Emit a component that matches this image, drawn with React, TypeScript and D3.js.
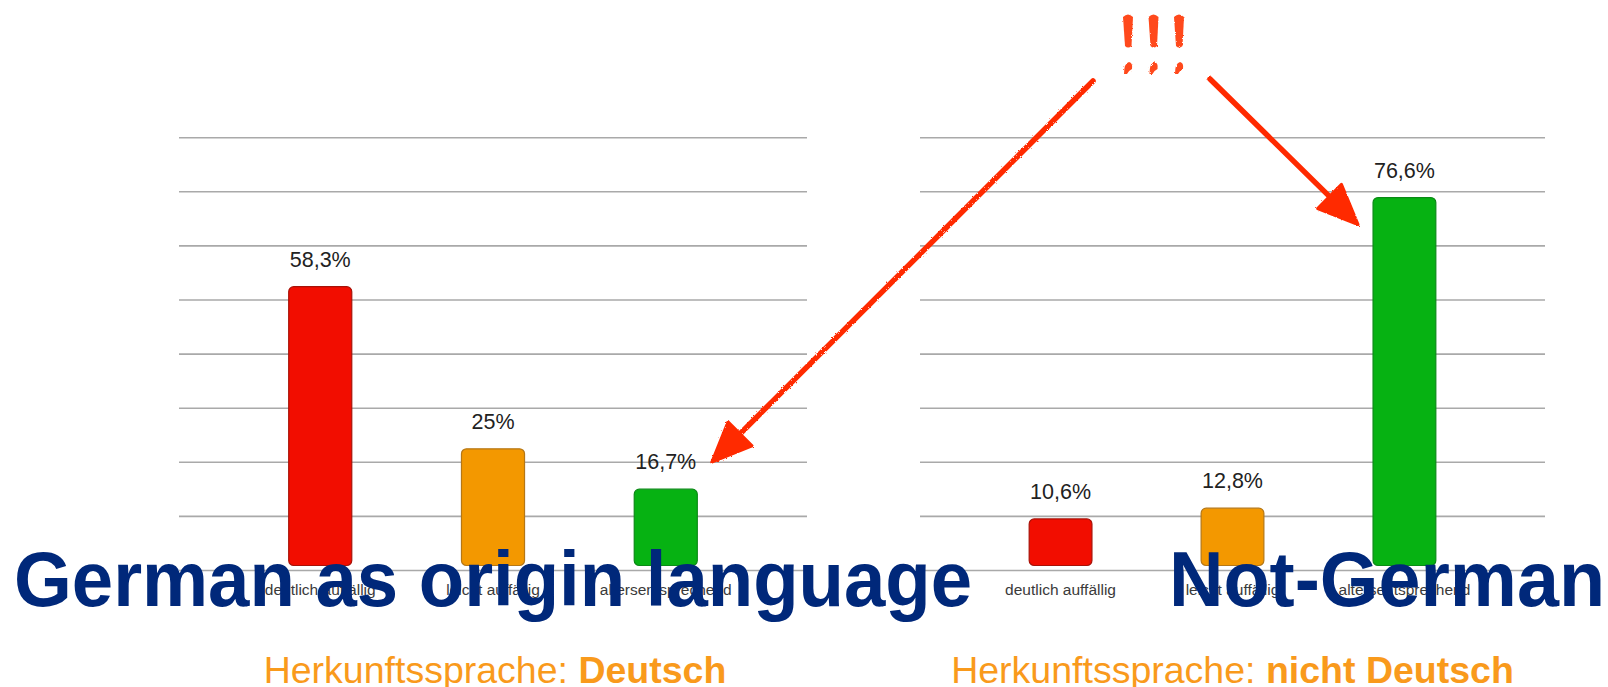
import React, { useEffect, useRef } from "react";
import * as d3 from "d3";

// chart data
const categories = ["deutlich auffällig", "leicht auffällig", "altersentsprechend"];
const deutschValues = [58.3, 25, 16.7];
const nichtDeutschValues = [10.6, 12.8, 76.6];
const barColors = ["#f20d00", "#f39800", "#06b212"];
const barStrokes = ["#a81208", "#b57716", "#0b8a16"];
const panelTitles = ["German as origin language", "Not-German"];
const subtitlePrefix = "Herkunftssprache: ";
const subtitleBold = ["Deutsch", "nicht Deutsch"];

const W = 1608;
const H = 687;
const FONT = "'Liberation Sans', Arial, Helvetica, sans-serif";

const fmt = (v: number) => `${String(v).replace(".", ",")}%`;

const App: React.FC = () => {
  const svgRef = useRef<SVGSVGElement | null>(null);

  useEffect(() => {
    d3.select(svgRef.current).selectAll("*").remove();
    const svg = d3.select(svgRef.current);

    // same y scale for both panels: 9 intervals of 100/9 %, top one cut off
    const yScale = d3.scaleLinear().domain([0, 100]).range([570.5, 83.6]);
    const gridValues = d3.range(9).map((i) => (i * 100) / 9);

    const defs = svg.append("defs");
    const rough = defs
      .append("filter")
      .attr("id", "rough")
      .attr("x", "-10%")
      .attr("y", "-10%")
      .attr("width", "120%")
      .attr("height", "120%");
    rough
      .append("feTurbulence")
      .attr("type", "fractalNoise")
      .attr("baseFrequency", 0.8)
      .attr("numOctaves", 2)
      .attr("result", "noise");
    rough
      .append("feDisplacementMap")
      .attr("in", "SourceGraphic")
      .attr("in2", "noise")
      .attr("scale", 2.5);

    const panels = [
      { values: deutschValues, x0: 179, x1: 807 },
      { values: nichtDeutschValues, x0: 920, x1: 1545 },
    ];

    const xScales = panels.map((p) =>
      d3.scaleBand<string>().domain(categories).range([p.x0, p.x1]).padding(0.635)
    );

    panels.forEach((p, pi) => {
      const xScale = xScales[pi];
      const g = svg.append("g");

      g.selectAll(".grid")
        .data(gridValues)
        .enter()
        .append("line")
        .attr("x1", p.x0)
        .attr("x2", p.x1)
        .attr("y1", (d) => yScale(d))
        .attr("y2", (d) => yScale(d))
        .attr("stroke", "#a9a9a9")
        .attr("stroke-width", 1.6);

      const data = categories.map((c, i) => ({ c, v: p.values[i], i }));

      g.selectAll(".bar")
        .data(data)
        .enter()
        .append("rect")
        .attr("x", (d) => xScale(d.c) || 0)
        .attr("width", xScale.bandwidth())
        .attr("y", (d) => yScale(d.v))
        .attr("height", (d) => yScale(0) - yScale(d.v) - 5)
        .attr("rx", 5)
        .attr("fill", (d) => barColors[d.i])
        .attr("stroke", (d) => barStrokes[d.i])
        .attr("stroke-width", 1.2);

      g.selectAll(".val")
        .data(data)
        .enter()
        .append("text")
        .attr("x", (d) => (xScale(d.c) || 0) + xScale.bandwidth() / 2)
        .attr("y", (d) => yScale(d.v) - 20)
        .attr("text-anchor", "middle")
        .style("font-family", FONT)
        .style("font-size", "21.5px")
        .attr("fill", "#222")
        .text((d) => fmt(d.v));

      g.selectAll(".cat")
        .data(data)
        .enter()
        .append("text")
        .attr("x", (d) => (xScale(d.c) || 0) + xScale.bandwidth() / 2)
        .attr("y", 595)
        .attr("text-anchor", "middle")
        .style("font-family", FONT)
        .style("font-size", "15.5px")
        .attr("fill", "#3a3a3a")
        .text((d) => d.c);
    });

    // big overlay titles
    const titlePos = [
      { x: 14, len: 958 },
      { x: 1169, len: 436 },
    ];
    panelTitles.forEach((t, i) => {
      svg
        .append("text")
        .attr("x", titlePos[i].x)
        .attr("y", 605.5)
        .attr("textLength", titlePos[i].len)
        .attr("lengthAdjust", "spacingAndGlyphs")
        .style("font-family", FONT)
        .style("font-size", "78px")
        .style("font-weight", "bold")
        .attr("fill", "#00287a")
        .text(t);
    });

    // orange subtitles, centred under each panel
    subtitleBold.forEach((b, i) => {
      const cx = (panels[i].x0 + panels[i].x1) / 2 + (i === 0 ? 2 : 0);
      const txt = svg
        .append("text")
        .attr("x", cx)
        .attr("y", 682.5)
        .attr("text-anchor", "middle")
        .style("font-family", FONT)
        .style("font-size", "37.5px")
        .attr("fill", "#f99a1c");
      txt.append("tspan").text(subtitlePrefix);
      txt.append("tspan").style("font-weight", "bold").text(b);
    });

    // hand drawn arrows pointing at the green bars
    const red = "#ff2a00";
    const xl = xScales[0];
    const xr = xScales[1];
    const leftTip: [number, number] = [
      (xl("altersentsprechend") || 0) + xl.bandwidth() / 2 + 46,
      yScale(deutschValues[2]) - 27,
    ];
    const rightTip: [number, number] = [
      (xr("altersentsprechend") || 0) - 15,
      yScale(nichtDeutschValues[2]) + 27,
    ];
    const arrows = [
      { from: [1093, 81] as [number, number], to: leftTip },
      { from: [1210, 79] as [number, number], to: rightTip },
    ];
    const ag = svg.append("g").attr("filter", "url(#rough)");
    arrows.forEach((a) => {
      const [x0, y0] = a.from;
      const [x1, y1] = a.to;
      const ang = Math.atan2(y1 - y0, x1 - x0);
      const headLen = 40;
      const headW = 17;
      const bx = x1 - headLen * Math.cos(ang);
      const by = y1 - headLen * Math.sin(ang);
      ag.append("line")
        .attr("x1", x0)
        .attr("y1", y0)
        .attr("x2", bx + 8 * Math.cos(ang))
        .attr("y2", by + 8 * Math.sin(ang))
        .attr("stroke", red)
        .attr("stroke-width", 5.5)
        .attr("stroke-linecap", "round");
      const px = -Math.sin(ang);
      const py = Math.cos(ang);
      const pts: [number, number][] = [
        [x1, y1],
        [bx + headW * px, by + headW * py],
        [bx - headW * px, by - headW * py],
      ];
      ag.append("path")
        .attr("d", (d3.line()(pts) || "") + "Z")
        .attr("fill", red)
        .attr("stroke", red)
        .attr("stroke-width", 3)
        .attr("stroke-linejoin", "round");
    });

    // "!!!"
    const orange = "#ff4a1c";
    const bangX = [1128, 1153.5, 1179];
    const eg = svg.append("g").attr("filter", "url(#rough)");
    bangX.forEach((x) => {
      eg.append("path")
        .attr(
          "d",
          `M${x - 5},17 Q${x},12 ${x + 5},17 L${x + 3.5},46 Q${x},49 ${x - 3},46 Z`
        )
        .attr("fill", orange);
      eg.append("path")
        .attr(
          "d",
          `M${x - 4},74 Q${x - 4},63 ${x + 1},62 Q${x + 5},63 ${x + 4},69 Q${x},71 ${x - 1},74 Z`
        )
        .attr("fill", orange);
    });
  }, []);

  return (
    <svg
      ref={svgRef}
      width={W}
      height={H}
      style={{ position: "absolute", left: 0, top: 0, background: "#fff" }}
    ></svg>
  );
};

export default App;
